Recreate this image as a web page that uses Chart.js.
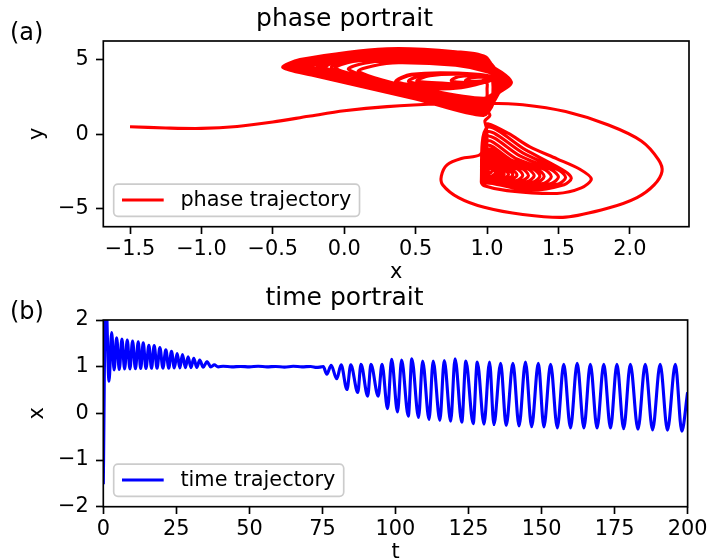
<!DOCTYPE html>
<html>
<head>
<meta charset="utf-8">
<script src="https://cdn.jsdelivr.net/npm/chart.js@4.4.1/dist/chart.umd.min.js"></script>
<style>
html, body { margin: 0; padding: 0; background: #fff; width: 711px; height: 558px; overflow: hidden; }
canvas { position: absolute; left: 0; top: 0; }
</style>
</head>
<body>
<canvas id="phase" width="711" height="600"></canvas>
<canvas id="time" width="711" height="600"></canvas>
<script>
// ---- data ----
// (a) phase portrait: [x, y] along the trajectory
const phaseStart = [
  [-1.50, 0.50], [-1.25, 0.42], [-1.00, 0.39], [-0.75, 0.52], [-0.50, 0.82], [-0.25, 1.20],
  [0.00, 1.57], [0.30, 1.85], [0.70, 2.04], [1.00, 2.08], [1.25, 1.98], [1.55, 1.52],
  [1.85, 0.62], [2.08, -0.45], [2.20, -1.70], [2.225, -2.50], [2.17, -3.40], [2.05, -4.25],
  [1.85, -4.95], [1.55, -5.56], [1.25, -5.38], [0.98, -4.90], [0.80, -4.25], [0.69, -3.40],
  [0.68, -2.80], [0.72, -2.05], [0.82, -1.62], [0.95, -1.38], [0.985, -0.60], [0.995, 0.40],
  [1.005, 0.70], [1.15, 0.05], [1.30, -0.85], [1.49, -1.65], [1.65, -2.35], [1.73, -3.00],
  [1.66, -3.60], [1.49, -3.97], [1.14, -3.78], [0.98, -3.45], [0.96, -3.20]
];
const phaseLower = [
  [1.00, 0.45], [1.27, -1.05], [1.545, -2.48], [1.59, -2.95], [1.54, -3.38], [1.30, -3.75], [1.04, -3.30], [0.97, -3.15],
  [1.00, 0.15], [1.25, -1.25], [1.505, -2.43], [1.55, -2.90], [1.50, -3.33], [1.28, -3.62], [1.04, -3.25], [0.97, -3.10],
  [1.00, -0.15], [1.23, -1.45], [1.455, -2.40], [1.50, -2.87], [1.45, -3.30], [1.25, -3.52], [1.04, -3.22], [0.97, -3.07],
  [1.00, -0.45], [1.20, -1.62], [1.405, -2.38], [1.45, -2.85], [1.40, -3.28], [1.23, -3.44], [1.04, -3.19], [0.97, -3.04],
  [1.00, -0.75], [1.18, -1.78], [1.355, -2.36], [1.40, -2.83], [1.35, -3.25], [1.20, -3.37], [1.04, -3.16], [0.97, -3.01],
  [1.00, -1.00], [1.17, -1.90], [1.325, -2.34], [1.37, -2.81], [1.32, -3.22], [1.19, -3.31], [1.04, -3.14], [0.97, -2.99],
  [1.00, -1.20], [1.15, -2.00], [1.285, -2.32], [1.33, -2.79], [1.28, -3.18], [1.17, -3.26], [1.04, -3.12], [0.97, -2.97],
  [1.00, -1.40], [1.13, -2.08], [1.245, -2.30], [1.29, -2.77], [1.24, -3.14], [1.15, -3.21], [1.04, -3.10], [0.97, -2.95],
  [1.00, -1.55], [1.11, -2.14], [1.21, -2.32], [1.25, -2.75], [1.21, -3.10], [1.13, -3.16], [1.04, -3.08], [0.97, -2.93],
  [1.00, -1.70], [1.09, -2.20], [1.17, -2.34], [1.21, -2.73], [1.17, -3.05], [1.11, -3.11], [1.04, -3.05], [0.97, -2.91],
  [1.00, -1.82], [1.08, -2.25], [1.145, -2.36], [1.18, -2.71], [1.145, -3.00], [1.09, -3.06], [1.03, -3.02], [0.975, -2.89],
  [1.00, -1.94], [1.07, -2.30], [1.12, -2.40], [1.15, -2.69], [1.12, -2.95], [1.075, -3.01], [1.03, -2.98], [0.975, -2.87],
  [1.00, -2.04], [1.055, -2.34], [1.095, -2.42], [1.12, -2.67], [1.095, -2.90], [1.06, -2.96], [1.02, -2.94], [0.98, -2.85],
  [1.00, -2.12], [1.045, -2.38], [1.10, -2.60], [1.05, -2.90], [0.985, -2.83],
  [1.00, -2.18], [1.04, -2.40], [1.08, -2.58], [1.04, -2.86], [0.99, -2.81],
  [1.00, -2.24], [1.06, -2.57], [1.03, -2.82], [0.99, -2.79]
];
const phaseNeck = [
  [1.03, -2.55], [0.995, -2.62], [1.01, -2.40], [1.00, -1.90], [0.995, -1.10], [1.00, -0.30],
  [0.995, 0.45], [0.985, 0.90], [1.02, 1.25], [1.00, 1.65], [0.985, 2.05], [1.00, 2.55],
  [1.00, 3.05], [1.00, 3.40]
];
const phaseInner = [
  [0.97, 3.62], [1.00, 3.72], [1.02, 3.62],
  [0.85, 3.58], [0.89, 3.78], [0.96, 3.82], [1.03, 3.66], [0.96, 3.44], [0.89, 3.44],
  [0.75, 3.58], [0.80, 3.86], [0.93, 3.91], [1.04, 3.70], [0.93, 3.36], [0.80, 3.37],
  [0.51, 3.56], [0.60, 3.93], [0.85, 4.01], [1.04, 3.73], [0.86, 3.25], [0.60, 3.28],
  [0.45, 3.55], [0.55, 3.96], [0.82, 4.04], [1.05, 3.76], [0.84, 3.20], [0.55, 3.24],
  [0.37, 3.54], [0.48, 3.99], [0.80, 4.07], [1.05, 3.78], [0.82, 3.16], [0.48, 3.21],
  [0.36, 3.55], [0.47, 4.02], [0.80, 4.10], [1.05, 3.80], [0.82, 3.12], [0.47, 3.18]
];
const phaseOuter = [
  [0.10, 4.20], [0.20, 4.58], [0.38, 4.80], [0.78, 4.62], [1.00, 4.18], [1.156, 3.50], [1.07, 2.90], [0.975, 2.40], [0.50, 3.10], [0.30, 3.50],
  [0.03, 4.35], [0.14, 4.76], [0.30, 4.92], [0.78, 4.72], [1.00, 4.30], [1.14, 3.50], [1.07, 2.95], [0.975, 2.25], [0.50, 3.00], [0.23, 3.60],
  [-0.06, 4.42], [0.06, 4.88], [0.30, 5.02], [0.78, 4.82], [1.00, 4.40], [1.17, 3.50], [1.07, 2.85], [0.975, 2.10], [0.50, 2.92], [0.14, 3.70],
  [-0.09, 4.45], [0.03, 4.92], [0.30, 5.10], [0.78, 4.90], [1.00, 4.48], [1.12, 3.50], [1.06, 2.80], [0.975, 2.00], [0.50, 2.85], [0.11, 3.75],
  [-0.13, 4.47], [-0.01, 4.95], [0.30, 5.18], [0.78, 4.98], [1.00, 4.56], [1.12, 3.50], [1.06, 2.75], [0.975, 1.92], [0.50, 2.78], [0.07, 3.80],
  [-0.15, 4.48], [-0.03, 4.98], [0.30, 5.25], [0.78, 5.05], [1.00, 4.63], [1.13, 3.50], [1.06, 2.72], [0.975, 1.85], [0.50, 2.72], [0.05, 3.84],
  [-0.17, 4.48], [-0.05, 5.00], [0.30, 5.31], [0.78, 5.11], [1.00, 4.69], [1.17, 3.50], [1.07, 2.68], [0.975, 1.78], [0.50, 2.66], [0.03, 3.86],
  [-0.19, 4.49], [-0.07, 5.01], [0.30, 5.36], [0.78, 5.16], [1.00, 4.74], [1.12, 3.50], [1.06, 2.62], [0.975, 1.72], [0.50, 2.62], [0.01, 3.88],
  [-0.22, 4.49], [-0.10, 5.02], [0.30, 5.41], [0.78, 5.21], [1.00, 4.79], [1.10, 3.50], [1.06, 2.58], [0.975, 1.66], [0.50, 2.58], [-0.02, 3.90],
  [-0.23, 4.50], [-0.11, 5.03], [0.30, 5.45], [0.78, 5.25], [1.00, 4.83], [1.10, 3.50], [1.06, 2.54], [0.975, 1.62], [0.50, 2.55], [-0.03, 3.91],
  [-0.24, 4.50], [-0.12, 5.03], [0.30, 5.49], [0.78, 5.29], [1.00, 4.87], [1.10, 3.50], [1.06, 2.50], [0.975, 1.58], [0.50, 2.52], [-0.04, 3.92],
  [-0.26, 4.50], [-0.14, 5.03], [0.30, 5.52], [0.78, 5.32], [1.00, 4.90], [1.07, 3.50], [1.05, 2.46], [0.975, 1.54], [0.50, 2.50], [-0.06, 3.93],
  [-0.27, 4.50], [-0.15, 5.03], [0.30, 5.55], [0.78, 5.35], [1.00, 4.93], [1.08, 3.50], [1.05, 2.42], [0.975, 1.50], [0.50, 2.48], [-0.07, 3.93],
  [-0.285, 4.50], [-0.165, 5.03], [0.30, 5.58], [0.78, 5.38], [1.00, 4.96], [1.10, 3.50], [1.06, 2.38], [0.975, 1.47], [0.50, 2.46], [-0.085, 3.94],
  [-0.29, 4.49], [-0.17, 5.02], [0.30, 5.60], [0.78, 5.40], [1.00, 4.98], [1.07, 3.50], [1.05, 2.35], [0.975, 1.44], [0.50, 2.45], [-0.09, 3.95],
  [-0.31, 4.49], [-0.19, 5.02], [0.30, 5.62], [0.78, 5.42], [1.00, 5.00], [1.05, 3.50], [1.04, 2.33], [0.975, 1.42], [0.50, 2.44], [-0.11, 3.95],
  [-0.315, 4.49], [-0.195, 5.02], [0.30, 5.64], [0.78, 5.44], [1.00, 5.02], [1.06, 3.50], [1.05, 2.31], [0.975, 1.40], [0.50, 2.43], [-0.115, 3.96],
  [-0.32, 4.48], [-0.20, 5.01], [0.30, 5.66], [0.78, 5.46], [1.00, 5.04], [1.07, 3.50], [1.05, 2.29], [0.975, 1.38], [0.50, 2.42], [-0.12, 3.96],
  [-0.33, 4.48], [-0.21, 5.01], [0.30, 5.67], [0.78, 5.47], [1.00, 5.05], [1.05, 3.50], [1.04, 2.27], [0.975, 1.36], [0.50, 2.41], [-0.13, 3.96],
  [-0.34, 4.48], [-0.22, 5.01], [0.30, 5.68], [0.78, 5.48], [1.00, 5.06], [1.05, 3.50], [1.04, 2.25], [0.975, 1.34], [0.50, 2.40], [-0.14, 3.97],
  [-0.35, 4.48], [-0.23, 5.01], [0.30, 5.69], [0.78, 5.49], [1.00, 5.07], [1.06, 3.50], [1.05, 2.23], [0.975, 1.32], [0.50, 2.40], [-0.15, 3.97],
  [-0.37, 4.47], [-0.25, 5.00], [0.30, 5.70], [0.78, 5.50], [1.00, 5.08], [1.05, 3.50], [1.04, 2.21], [0.975, 1.30], [0.50, 2.39], [-0.17, 3.97],
  [-0.39, 4.47], [-0.27, 5.00], [0.30, 5.71], [0.78, 5.51], [1.00, 5.09], [1.05, 3.50], [1.04, 2.20], [0.975, 1.29], [0.50, 2.38], [-0.19, 3.97],
  [-0.41, 4.47], [-0.29, 5.00], [0.30, 5.72], [0.78, 5.52], [1.00, 5.10], [1.05, 3.50], [1.04, 2.18], [0.975, 1.27], [0.50, 2.37], [-0.21, 3.97],
  [-0.43, 4.47], [-0.31, 5.00], [0.30, 5.73], [0.78, 5.53], [1.00, 5.11], [1.04, 3.50], [1.03, 2.17], [0.975, 1.26], [0.50, 2.37], [-0.23, 3.97],
  [-0.42, 4.47], [-0.30, 5.00], [0.10, 5.55]
];

// (b) time portrait: [t, x]
const timeTransient = [
  [0, -1.52], [0.8, 2.7], [1.95, 0.69], [2.86, 1.73], [3.7, 0.93], [4.56, 1.62], [5.47, 0.94],
  [6.38, 1.59], [7.29, 0.95], [8.2, 1.57], [9.11, 0.95], [10.02, 1.55], [10.99, 0.955], [11.96, 1.53],
  [12.8, 0.96], [13.67, 1.51], [14.6, 0.96], [15.6, 1.46], [16.5, 0.965], [17.42, 1.45], [18.4, 0.965],
  [19.36, 1.41], [20.4, 0.97], [21.4, 1.36], [22.4, 0.97], [23.34, 1.33], [24.3, 0.975], [25.27, 1.28],
  [26.2, 0.975], [27.1, 1.26], [28.1, 0.98], [29.03, 1.21], [30.0, 0.98], [30.97, 1.18], [32.0, 0.985],
  [33.0, 1.14], [34.2, 0.99], [35.5, 1.11], [36.8, 0.995], [38.0, 1.04], [39.3, 0.995]
];
const timeFlat = [
  [41, 1.01], [44, 0.995], [47, 1.005], [50, 0.995], [53, 1.01], [56, 0.995], [59, 1.005],
  [62, 0.99], [65, 1.01], [68, 0.995], [71, 1.005], [73, 0.985], [74.6, 0.995], [75.3, 1.0]
];
const timeGrowth = [
  [76.5, 0.84], [78.0, 1.03], [79.9, 0.74], [81.4, 1.04], [83.4, 0.51], [84.7, 1.04], [87.1, 0.45],
  [88.2, 1.05], [90.5, 0.37], [91.6, 1.05], [94.1, 0.37], [95.4, 1.05], [97.3, 0.10], [98.7, 1.156],
  [100.7, 0.03], [102.1, 1.14], [104.4, -0.06], [105.6, 1.17], [107.9, -0.09], [109.3, 1.12],
  [111.5, -0.13], [112.9, 1.12], [115.2, -0.15], [116.7, 1.13], [118.9, -0.17], [120.4, 1.17],
  [122.7, -0.19], [124.1, 1.12], [126.6, -0.22], [128.0, 1.10], [130.3, -0.23], [132.2, 1.10],
  [133.7, -0.24], [136.0, 1.07], [137.9, -0.26], [140.2, 1.07], [142.3, -0.27], [144.5, 1.10],
  [146.6, -0.285], [148.9, 1.07], [150.8, -0.29], [153.1, 1.05], [155.4, -0.31], [157.6, 1.05],
  [159.9, -0.31], [162.2, 1.07], [164.5, -0.31], [166.7, 1.05], [169.0, -0.315], [171.3, 1.05],
  [173.6, -0.315], [175.8, 1.05], [178.1, -0.33], [180.4, 1.05], [183.0, -0.34], [185.5, 1.05],
  [188.0, -0.355], [190.6, 1.05], [193.1, -0.36], [195.8, 1.05], [198.0, -0.38], [200, 0.45]
];

// tick labels
const phaseXTicks = [-1.5, -1.0, -0.5, 0.0, 0.5, 1.0, 1.5, 2.0];
const phaseYTicks = [-5, 0, 5];
const timeXTicks = [0, 25, 50, 75, 100, 125, 150, 175, 200];
const timeYTicks = [-2, -1, 0, 1, 2];

// ---- drawing ----
const FAMILY = 'DejaVu Sans';
const tickFont = {family: FAMILY, size: 20.83};
Chart.defaults.color = '#000';
Chart.defaults.font.family = FAMILY;

const minus = s => String(s).replace('-', '\u2212');

// frame, legend box and panel letter, drawn like matplotlib
const panelPlugin = {
  id: 'panel',
  afterDatasetsDraw(chart, args, o) {
    const {ctx, chartArea: a} = chart;
    ctx.save();
    ctx.lineWidth = 1.67;
    ctx.strokeStyle = '#000';
    ctx.strokeRect(a.left, a.top, a.right - a.left, a.bottom - a.top);

    ctx.font = '20.83px "DejaVu Sans"';
    const tw = ctx.measureText(o.label).width;
    const x0 = a.left + 10.4, y1 = a.bottom - 10.4, y0 = y1 - 32.2;
    const x1 = x0 + 66.7 + tw + 8.3;
    const r = 4.2;
    ctx.beginPath();
    ctx.moveTo(x0 + r, y0);
    ctx.arcTo(x1, y0, x1, y1, r);
    ctx.arcTo(x1, y1, x0, y1, r);
    ctx.arcTo(x0, y1, x0, y0, r);
    ctx.arcTo(x0, y0, x1, y0, r);
    ctx.closePath();
    ctx.fillStyle = 'rgba(255,255,255,0.8)';
    ctx.fill();
    ctx.strokeStyle = '#cccccc';
    ctx.lineWidth = 1.67;
    ctx.stroke();

    ctx.beginPath();
    ctx.moveTo(x0 + 8.3, a.bottom - 26.7);
    ctx.lineTo(x0 + 50, a.bottom - 26.7);
    ctx.strokeStyle = o.color;
    ctx.lineWidth = 3.125;
    ctx.stroke();

    ctx.fillStyle = '#000';
    ctx.textBaseline = 'alphabetic';
    ctx.textAlign = 'left';
    ctx.fillText(o.label, x0 + 66.7, a.bottom - 20.7);

    ctx.font = '24px "DejaVu Sans"';
    ctx.fillText(o.panel, 10, a.top - 1.5);
    ctx.restore();
  }
};

function makeScales(o) {
  return {
    x: {
      type: 'linear', min: o.xMin, max: o.xMax,
      afterBuildTicks: s => { s.ticks = o.xTicks.map(v => ({value: v})); },
      afterFit: s => { s.height = o.xHeight; },
      ticks: {font: tickFont, color: '#000', padding: 3.5, maxRotation: 0, autoSkip: false,
              callback: v => minus(o.xFmt(v))},
      grid: {drawOnChartArea: false, tickLength: 7.3, tickWidth: 1.67, tickColor: '#000'},
      border: {display: false},
      title: {display: true, text: o.xTitle, font: tickFont, color: '#000',
              padding: {top: 0, bottom: o.xTitlePad}}
    },
    y: {
      type: 'linear', min: o.yMin, max: o.yMax,
      afterBuildTicks: s => { s.ticks = o.yTicks.map(v => ({value: v})); },
      afterFit: s => { s.width = 103.3; },
      ticks: {font: tickFont, color: '#000', padding: 7.3, autoSkip: false,
              callback: v => minus(v)},
      grid: {drawOnChartArea: false, tickLength: 7.3, tickWidth: 1.67, tickColor: '#000'},
      border: {display: false},
      title: {display: true, text: o.yTitle, font: tickFont, color: '#000',
              padding: {top: 25.1, bottom: 0}}
    }
  };
}

function baseOptions(title, pad) {
  return {
    responsive: false,
    animation: false,
    devicePixelRatio: 1,
    events: [],
    layout: {autoPadding: false, padding: pad},
    plugins: {
      legend: {display: false},
      tooltip: {enabled: false},
      title: {display: true, text: title, color: '#000',
              font: {family: FAMILY, size: 25, weight: 'normal'},
              padding: {top: 4.85, bottom: 6.15}}
    }
  };
}

const toXY = arr => arr.map(([x, y]) => ({x, y}));

const phaseOpts = baseOptions('phase portrait', {left: 0, right: 22, top: 0, bottom: 313.3});
phaseOpts.scales = makeScales({
  xMin: -1.687, xMax: 2.414, xTicks: phaseXTicks, xFmt: v => v.toFixed(1), xHeight: 60,
  xTitle: 'x', xTitlePad: 2.0,
  yMin: -6.2, yMax: 6.25, yTicks: phaseYTicks, yTitle: 'y'
});
phaseOpts.plugins.panel = {label: 'phase trajectory', color: '#ff0000', panel: '(a)'};

new Chart(document.getElementById('phase'), {
  type: 'line',
  data: {
    datasets: [{
      label: 'phase trajectory',
      data: toXY([...phaseStart, ...phaseLower, ...phaseNeck, ...phaseInner, ...phaseOuter]),
      borderColor: '#ff0000',
      borderWidth: 3.125,
      borderJoinStyle: 'round',
      pointRadius: 0,
      fill: false,
      tension: 0.3
    }]
  },
  options: phaseOpts,
  plugins: [panelPlugin]
});

const timeOpts = baseOptions('time portrait', {left: 0, right: 22, top: 279, bottom: 23.3});
timeOpts.scales = makeScales({
  xMin: 0, xMax: 200, xTicks: timeXTicks, xFmt: v => String(v), xHeight: 70,
  xTitle: 't', xTitlePad: 12.0,
  yMin: -2, yMax: 2, yTicks: timeYTicks, yTitle: 'x'
});
timeOpts.plugins.panel = {label: 'time trajectory', color: '#0000ff', panel: '(b)'};

new Chart(document.getElementById('time'), {
  type: 'line',
  data: {
    datasets: [{
      label: 'time trajectory',
      data: toXY([...timeTransient, ...timeFlat, ...timeGrowth]),
      borderColor: '#0000ff',
      borderWidth: 3.125,
      borderJoinStyle: 'round',
      pointRadius: 0,
      fill: false,
      cubicInterpolationMode: 'monotone'
    }]
  },
  options: timeOpts,
  plugins: [panelPlugin]
});
</script>
</body>
</html>
